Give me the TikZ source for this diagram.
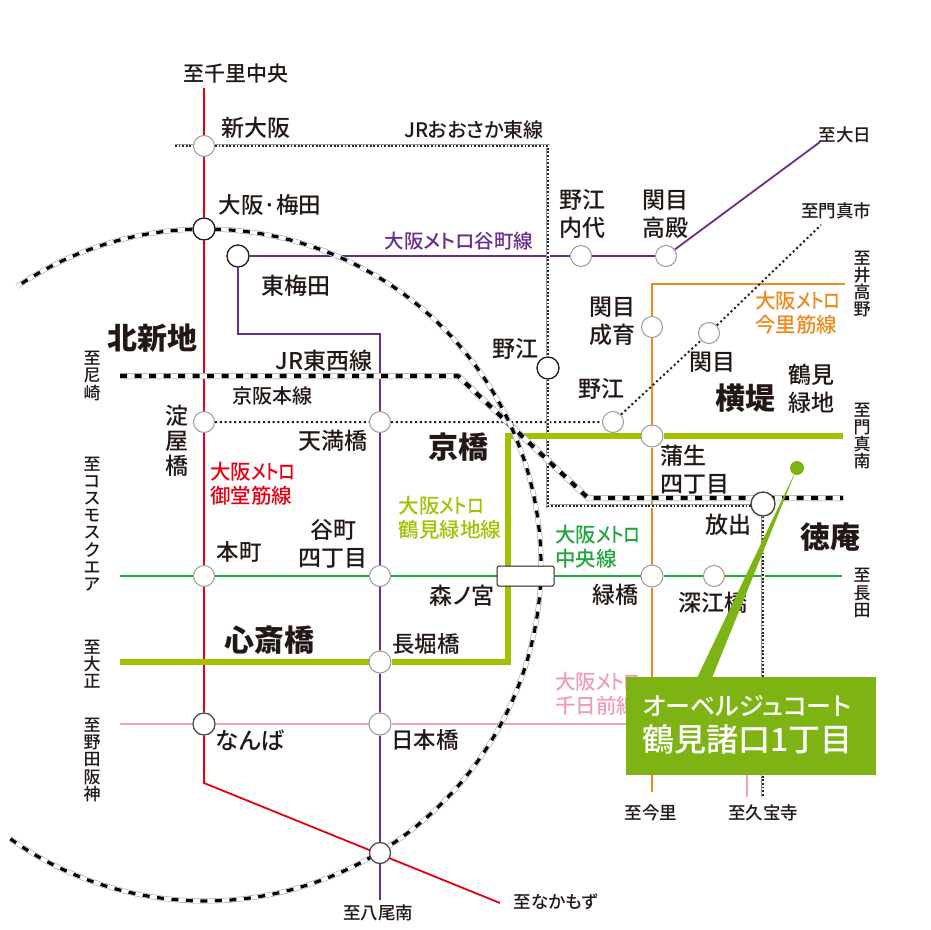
\documentclass[tikz,border=0pt]{standalone}
\usepackage{fontspec}
\setmainfont[RawFeature={+palt},BoldFont={Noto Sans CJK JP Black}]{Noto Sans CJK JP Medium}
\usetikzlibrary{backgrounds}
\definecolor{ink}{HTML}{231815}
\definecolor{cred}{HTML}{E60012}
\definecolor{cpur}{HTML}{6A2C8E}
\definecolor{cora}{HTML}{EE8A1D}
\definecolor{clime}{HTML}{A4C000}
\definecolor{cgrn}{HTML}{22A53C}
\definecolor{cpnk}{HTML}{F09CBB}
\definecolor{ccall}{HTML}{7DB414}
\newcommand{\fs}[1]{\fontsize{#1}{#1}\selectfont}
\newcommand{\metro}{大阪\scalebox{0.82}[1]{メトロ}}
\tikzset{
  x=1pt,y=-1pt,
  stn/.style={circle,draw=black!40,fill=white,line width=1pt,minimum size=21pt,inner sep=0pt},
  stnk/.style={circle,draw=ink,fill=white,line width=1.3pt,minimum size=22pt,inner sep=0pt},
  lb/.style={text=ink,inner sep=0pt,align=center,font=\fs{23}},
  ar/.style={lb,font=\bfseries\fs{30}},
  dest/.style={lb,font=\fs{17.5}},
  vdest/.style={lb,font=\fontsize{17}{17.2}\selectfont},
  vst/.style={lb,font=\fontsize{23}{25}\selectfont},
  two/.style={lb,font=\fontsize{23}{28}\selectfont},
  twol/.style={two,align=left},
  ll/.style={lb,font=\fontsize{20.5}{24}\selectfont},
  lnred/.style={draw=cred,line width=1.8pt},
  lnpur/.style={draw=cpur,line width=1.8pt},
  lnora/.style={draw=cora,line width=1.8pt},
  lnlime/.style={draw=clime,line width=5.5pt},
  lngrn/.style={draw=cgrn,line width=1.8pt},
  lnpnk/.style={draw=cpnk,line width=1.8pt},
  jr/.style={draw=black!40,line width=6pt,
    postaction={draw=white,line width=5pt},
    postaction={draw=black,line width=4.2pt,dash pattern=on 7pt off 7.5pt}},
  jra/.style={draw=black!40,line width=5pt,
    postaction={draw=white,line width=4pt},
    postaction={draw=black,line width=3.2pt,dash pattern=on 7pt off 7.5pt}},
  jrt/.style={draw=black!40,line width=4pt,
    postaction={draw=white,line width=3pt},
    postaction={draw=black!85,line width=2pt,dash pattern=on 1.8pt off 1.8pt}},
  dots/.style={draw=ink,line width=2pt,dash pattern=on 2pt off 2.8pt},
}
\begin{document}
\begin{tikzpicture}
\useasboundingbox (0,0) rectangle (930,930);
% stations
\node[stn]  (shin)   at (204,146) {};
\node[stnk] (umeda)  at (204,229) {};
\node[stnk] (higa)   at (238,256) {};
\node[stn]  (yodo)   at (204,422) {};
\node[stn]  (temma)  at (380,422) {};
\node[stn]  (uchi)   at (581,256) {};
\node[stn]  (taka)   at (666,256) {};
\node[stn]  (seii)   at (652,327) {};
\node[stn]  (seki)   at (709,333) {};
\node[stnk] (noej)   at (548,368) {};
\node[stn]  (noek)   at (613,422) {};
\node[stn,minimum size=22pt]  (gamo)   at (652,436) {};
\node[stnk,minimum size=24pt,draw=black!75] (hana) at (763,504) {};
\node[rectangle,rounded corners=1.5pt,draw=ink,fill=white,line width=1pt,minimum width=57pt,minimum height=20pt,inner sep=0pt] (mori) at (525.5,576) {};
\node[stn]  (hon)    at (204,576) {};
\node[stn]  (tani)   at (380,576) {};
\node[stn,minimum size=22pt]  (mido)   at (652,576) {};
\node[stn]  (fuka)   at (714,576) {};
\node[stn,minimum size=22pt]  (naga)   at (380,662) {};
\node[stnk,draw=black!70] (namb)   at (204,724) {};
\node[stn,minimum size=22pt]  (nipp)   at (380,724) {};
\node[stnk,draw=black!70,minimum size=21pt] (yaom)   at (380,853) {};
% free ends and bends
\coordinate (rt) at (204,88);  \coordinate (rb) at (204,783); \coordinate (re) at (500,903);
\coordinate (pb) at (380,900); \coordinate (pc1) at (380,334); \coordinate (pc2) at (238,334); \coordinate (pe) at (820,142);
\coordinate (ot) at (845,284); \coordinate (oc) at (652,284); \coordinate (ob) at (652,792);
\coordinate (ke) at (821,225);
\coordinate (ml) at (120,662); \coordinate (mc1) at (508,662); \coordinate (mc2) at (508,436); \coordinate (mr) at (843,436);
\coordinate (cl) at (120,576); \coordinate (cr) at (842,576);
\coordinate (sl) at (120,724); \coordinate (sc) at (747,724); \coordinate (sb) at (747,797);
\coordinate (tl) at (120,376); \coordinate (tc1) at (458,376); \coordinate (tc2) at (588,498); \coordinate (tr) at (843,498);
\coordinate (hl) at (175,146); \coordinate (hc1) at (548,146); \coordinate (hc2) at (548,506); \coordinate (hc3) at (763,506); \coordinate (hb) at (763,797);
\begin{scope}[on background layer]
  \fill[white] (0,0) rectangle (930,930);
  \draw[lnpnk,line join=miter] (sl) -- (namb) -- (nipp) -- (sc) -- (sb);
  \draw[lngrn] (cl) -- (hon) -- (tani) -- (mori) -- (mido) -- (fuka) -- (cr);
  \draw[lnred] (rt) -- (shin) -- (umeda) -- (yodo) -- (hon) -- (namb) -- (rb) -- (re);
  \draw[lnpur] (pb) -- (yaom) -- (nipp) -- (naga) -- (tani) -- (temma) -- (pc1) -- (pc2) -- (higa) -- (uchi) -- (taka) -- (pe);
  \draw[lnora] (ot) -- (oc) -- (seii) -- (gamo) -- (mido) -- (ob);
  \draw[dots] (yodo) -- (temma) -- (noek) -- (seki) -- (ke);
  \draw[jrt] (hl) -- (shin) -- (hc1) -- (noej) -- (hc2) -- (hc3) -- (hana) -- (hb);
  \draw[lnlime,line join=miter] (ml) -- (naga) -- (mc1) -- (mc2) -- (gamo) -- (mr);
  \draw[jr] (tl) -- (tc1) -- (tc2) -- (tr);
  \draw[jra] plot[domain=125.4:-124,samples=140,smooth] ({205+336*cos(\x)},{565+336*sin(\x)});
\end{scope}
% station labels
\node[lb] (t1) at (256,128) {新大阪};
\node[lb,font=\fs{22.5}] (t2) at (270,205) {大阪·梅田};
\node[lb] (t3) at (296,286) {東梅田};
\node[ar] (t4) at (152,338) {北新地};
\node[lb] (t5) at (324,361) {JR東西線};
\node[lb,font=\fs{20}] (t6) at (272,396) {京阪本線};
\node[vst] (t7) at (177,441) {淀\\屋\\橋};
\node[lb] (t8) at (333,441) {天満橋};
\node[ar] (t9) at (458,447) {京橋};
\node[lb] (t10) at (515,349) {野江};
\node[lb] (t11) at (601,389) {野江};
\node[two] (t12) at (612,321) {関目\\成育};
\node[two] (t13) at (582,214) {野江\\内代};
\node[twol] (t14) at (665,214) {関目\\高殿};
\node[lb] (t15) at (712,362) {関目};
\node[ar] (t16) at (745,398) {横堤};
\node[two] (t17) at (811,389) {鶴見\\緑地};
\node[twol,anchor=west] (t18) at (660,470) {蒲生\\四丁目};
\node[lb] (t19) at (728,525) {放出};
\node[ar] (t20) at (830,537) {徳庵};
\node[lb] (t21) at (615,595) {緑橋};
\node[lb] (t22) at (713,603) {深江橋};
\node[lb] (t23) at (462,596) {森ノ宮};
\node[two] (t24) at (333,544) {谷町\\四丁目};
\node[lb,font=\fs{22.5}] (t25) at (239,552) {本町};
\node[ar] (t26) at (269,640) {心斎橋};
\node[lb,font=\fs{22.5}] (t27) at (426,644) {長堀橋};
\node[lb,font=\fs{22.5}] (t28) at (425,740) {日本橋};
\node[lb,font=\fs{23.5}] (t29) at (250,740) {なんば};
% line labels
\node[lb,font=\fs{20},anchor=east] (t30) at (544,130) {JRおおさか東線};
\node[lb,font=\fs{19.5},text=cpur] (t31) at (459,241) {大阪メトロ谷町線};
\node[ll,text=cora,align=left] (t32) at (798,313) {\metro\\今里筋線};
\node[ll,text=cred,align=left] (t33) at (253,484) {\metro\\御堂筋線};
\node[ll,text=clime,align=left] (t34) at (450,518) {\metro\\鶴見緑地線};
\node[ll,text=cgrn,align=left] (t35) at (598,547) {\metro\\中央線};
\node[ll,text=cpnk,align=left,anchor=west] (t36) at (555,694) {\metro\\千日前線};
% destinations
\node[lb,font=\fs{21}] (d1) at (236,74) {至千里中央};
\node[dest] (d2) at (378,913) {至八尾南};
\node[dest] (d3) at (556,902) {至なかもず};
\node[dest] (d4) at (651,813) {至今里};
\node[dest] (d5) at (763,813) {至久宝寺};
\node[dest] (d6) at (845,135) {至大日};
\node[dest] (d7) at (836,211) {至門真市};
\node[vdest] (d8) at (862,284) {至\\井\\高\\野};
\node[vdest] (d9) at (862,436) {至\\門\\真\\南};
\node[vdest] (d10) at (862,593) {至\\長\\田};
\node[vdest] (d11) at (92,376) {至\\尼\\崎};
\node[vdest] (d12) at (92,524) {至\\コ\\ス\\モ\\ス\\ク\\エ\\ア};
\node[vdest] (d13) at (92,664) {至\\大\\正};
\node[vdest] (d14) at (92,760) {至\\野\\田\\阪\\神};
% callout
\node[circle,fill=ccall,minimum size=14pt,inner sep=0pt] (dot) at (797,468) {};
\node[rectangle,fill=ccall,minimum width=250pt,minimum height=98pt,inner sep=0pt,anchor=north west] (box) at (626,677) {};
\coordinate (pa) at (697,678); \coordinate (pc) at (712,678);
\fill[ccall] (pa) -- (dot.center) -- (pc) -- cycle;
\node[text=white,inner sep=0pt,font=\fs{25}] (c1) at (747,706) {オーベルジュコート};
\node[text=white,inner sep=0pt,font=\fs{32}] (c2) at (747.5,739) {鶴見諸口1丁目};
\end{tikzpicture}
\end{document}
